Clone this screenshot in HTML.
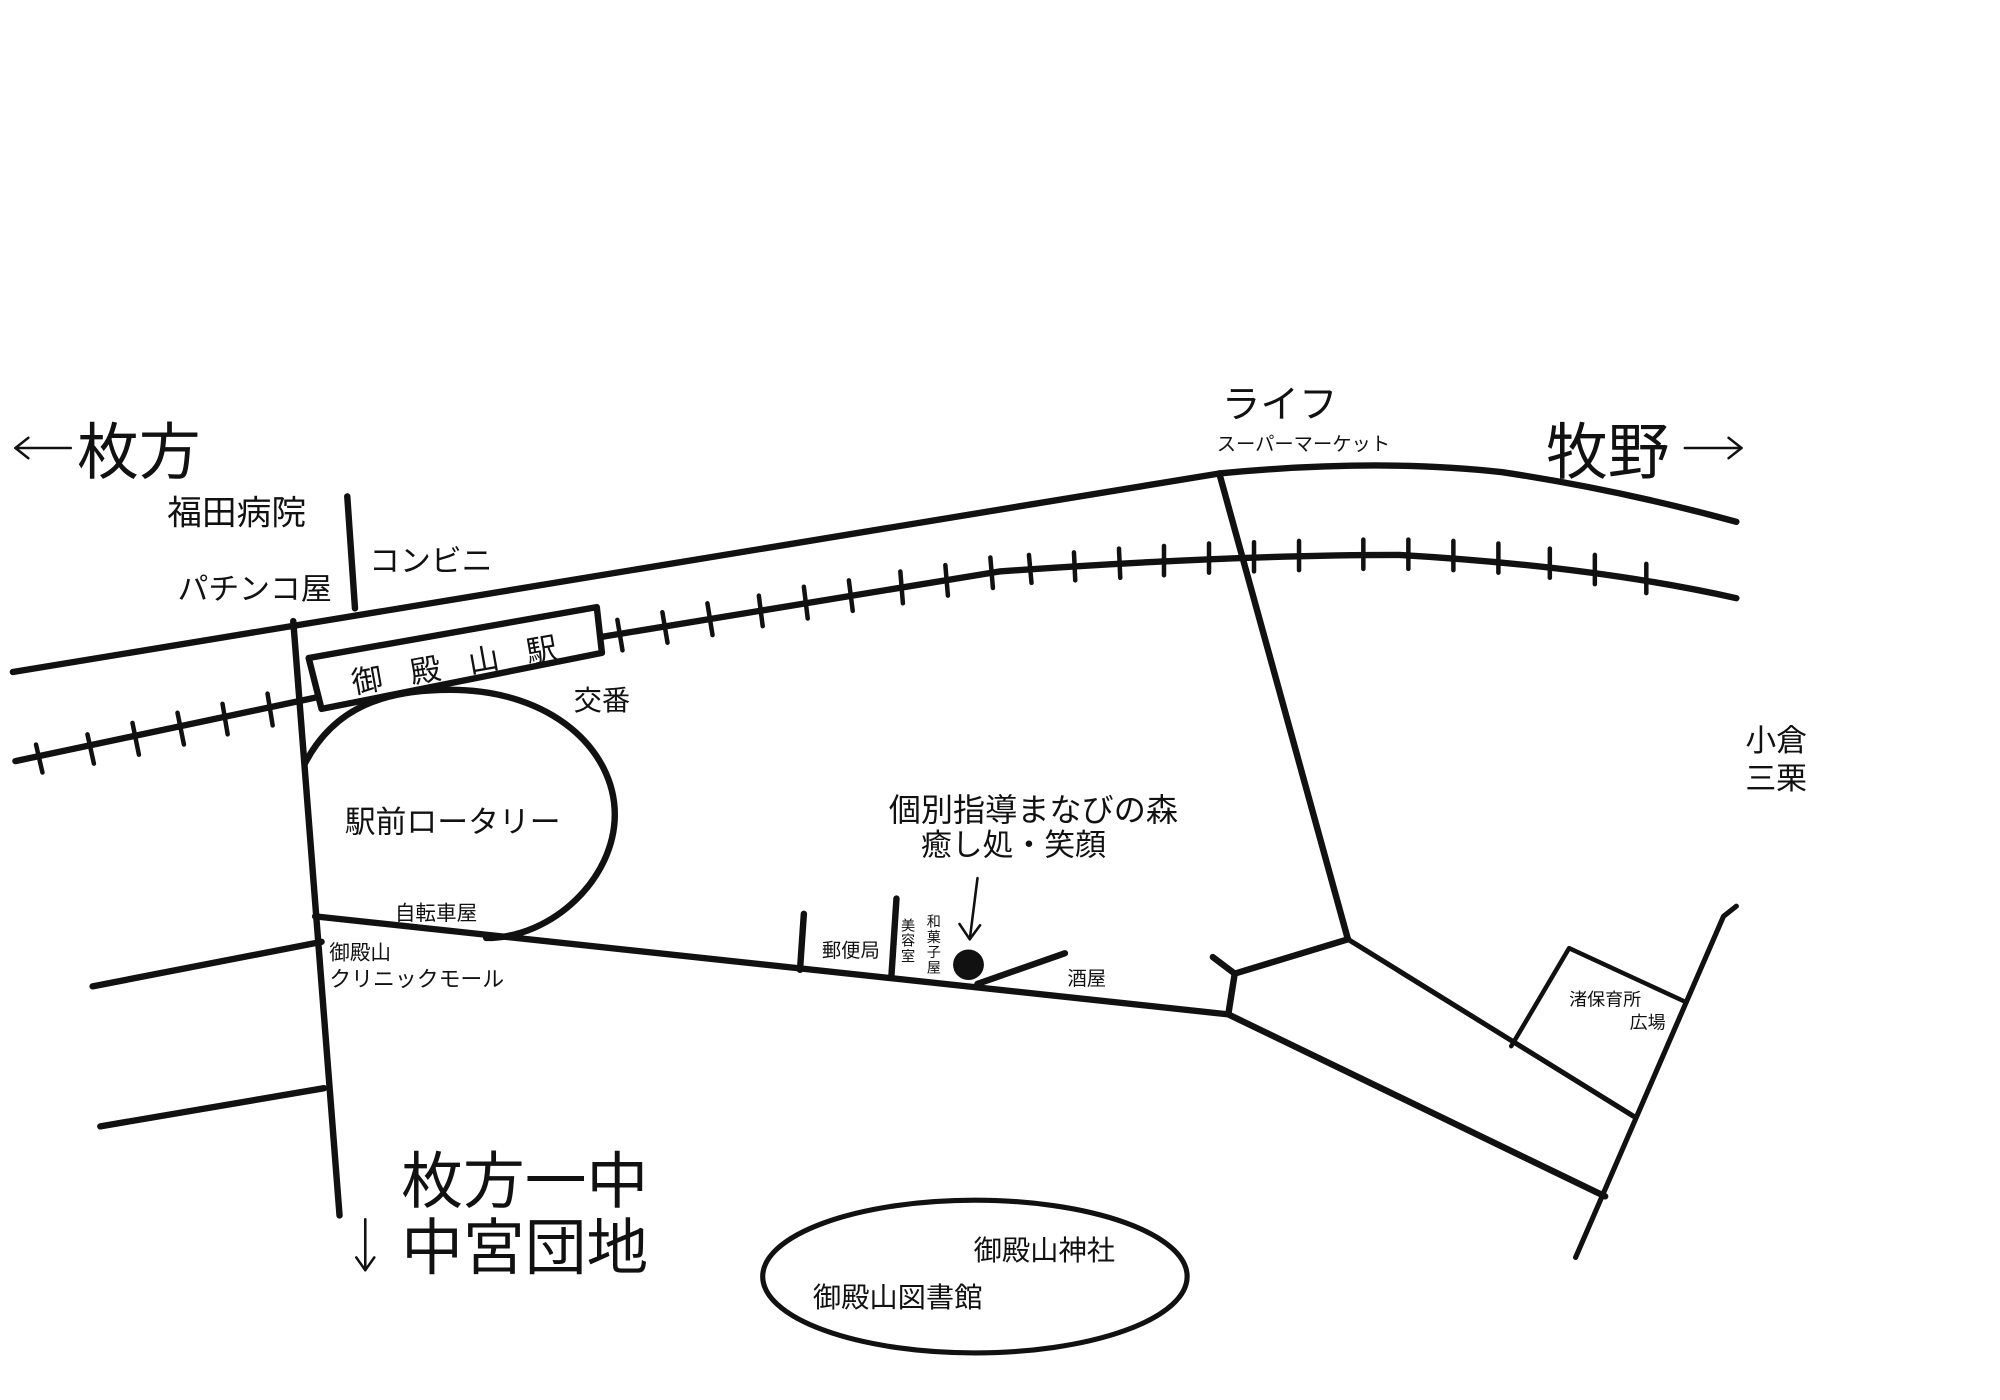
<!DOCTYPE html>
<html><head><meta charset="utf-8"><style>
html,body{margin:0;padding:0;background:#fff;width:2000px;height:1400px;overflow:hidden}
svg{display:block}
text{font-family:"Liberation Sans","Noto Sans CJK JP",sans-serif;fill:#111}
</style></head><body>
<svg width="2000" height="1400" viewBox="0 0 1555 1100" preserveAspectRatio="none" xmlns="http://www.w3.org/2000/svg">
<g stroke="#111" stroke-width="5" fill="none" stroke-linecap="round" stroke-linejoin="round">
<path d="M10 528 L948 372 Q1072 360 1168 371 Q1260 385 1350 410"/>
<path d="M12 598 L470 500 L777 449 Q957 436 1088 436 Q1240 445 1350 470"/>
<g stroke-width="3.5">
<line x1="28" y1="585" x2="33" y2="607"/><line x1="68" y1="577" x2="73" y2="600"/><line x1="103" y1="568" x2="108" y2="593"/>
<line x1="138" y1="560" x2="143" y2="585"/><line x1="173" y1="553" x2="177" y2="577"/><line x1="208" y1="545" x2="212" y2="570"/>
<line x1="480" y1="487" x2="484" y2="511"/><line x1="515" y1="481" x2="519" y2="505"/><line x1="550" y1="474" x2="554" y2="499"/>
<line x1="590" y1="468" x2="593" y2="492"/><line x1="625" y1="461" x2="628" y2="486"/><line x1="660" y1="456" x2="663" y2="480"/>
<line x1="700" y1="449" x2="702" y2="474"/><line x1="735" y1="444" x2="737" y2="468"/><line x1="770" y1="438" x2="772" y2="462"/>
<line x1="800" y1="436" x2="802" y2="458"/><line x1="835" y1="434" x2="836" y2="456"/><line x1="870" y1="431" x2="871" y2="454"/>
<line x1="905" y1="429" x2="905" y2="452"/><line x1="940" y1="427" x2="940" y2="450"/><line x1="975" y1="426" x2="975" y2="449"/>
<line x1="1010" y1="425" x2="1010" y2="448"/><line x1="1060" y1="424" x2="1060" y2="447"/><line x1="1095" y1="424" x2="1095" y2="447"/>
<line x1="1130" y1="425" x2="1130" y2="448"/><line x1="1165" y1="427" x2="1165" y2="450"/><line x1="1205" y1="431" x2="1205" y2="454"/>
<line x1="1240" y1="436" x2="1240" y2="459"/><line x1="1280" y1="443" x2="1280" y2="466"/>
</g>
<polygon points="240,517 464,477 468,513 250,557" fill="#fff"/>
<line x1="270" y1="390" x2="276" y2="478"/>
<line x1="228" y1="488" x2="264" y2="955"/>
<path d="M237 600 C260 555 300 542 350 542 C430 542 478 590 478 640 C478 690 430 737 378 737"/>
<line x1="245" y1="720" x2="955" y2="797"/>
<line x1="72" y1="775" x2="250" y2="740"/>
<line x1="78" y1="885" x2="252" y2="855"/>
<line x1="625" y1="718" x2="622" y2="762"/>
<line x1="697" y1="706" x2="693" y2="768"/>
<line x1="760" y1="773" x2="828" y2="749"/>
<line x1="948" y1="372" x2="1048" y2="738"/>
<polyline points="1048,738 960,765 955,797"/>
<line x1="943" y1="752" x2="960" y2="765"/>
<line x1="955" y1="797" x2="1248" y2="940"/>
<line x1="1048" y1="738" x2="1270" y2="877" stroke-width="4"/>
<polyline points="1350,712 1340,720 1225,988" stroke-width="4"/>
<polyline points="1175,822 1220,745 1310,787" stroke-width="3.5"/>
<ellipse cx="758" cy="1003" rx="165" ry="60" stroke-width="4"/>
<g stroke-width="2">
<line x1="760" y1="690" x2="754" y2="738"/>
<polyline points="746,726 754,738 762,727"/>
<!-- big arrows -->
<line x1="12" y1="352" x2="55" y2="352"/><polyline points="22,344 12,352 22,360"/>
<line x1="1310" y1="352" x2="1354" y2="352"/><polyline points="1344,344 1354,352 1344,360"/>
<line x1="284" y1="958" x2="284" y2="998"/><polyline points="277,988 284,998 291,988"/>
</g>
</g>
<circle cx="753" cy="758" r="12" fill="#111"/>
<text x="60" y="372" font-size="48">枚方</text>
<text x="130" y="412" font-size="27">福田病院</text>
<text x="287" y="449" font-size="24">コンビニ</text>
<text x="138" y="471" font-size="24">パチンコ屋</text>
<text x="0" y="0" font-size="24" transform="translate(275,545) rotate(-10)" letter-spacing="22">御殿山駅</text>
<text x="446" y="558" font-size="22">交番</text>
<text x="268" y="654" font-size="24">駅前ロータリー</text>
<text x="307" y="723" font-size="16">自転車屋</text>
<text x="256" y="754" font-size="16">御殿山</text>
<text x="256" y="775" font-size="17">クリニックモール</text>
<text x="312" y="945" font-size="48">枚方一中</text>
<text x="312" y="997" font-size="48">中宮団地</text>
<text x="639" y="752" font-size="15">郵便局</text>
<text font-size="11" x="706" y="731" text-anchor="middle">美</text>
<text font-size="11" x="706" y="743" text-anchor="middle">容</text>
<text font-size="11" x="706" y="755" text-anchor="middle">室</text>
<text font-size="11" x="726" y="728" text-anchor="middle">和</text>
<text font-size="11" x="726" y="740" text-anchor="middle">菓</text>
<text font-size="11" x="726" y="752" text-anchor="middle">子</text>
<text font-size="11" x="726" y="764" text-anchor="middle">屋</text>
<text x="830" y="774" font-size="15">酒屋</text>
<text x="691" y="645" font-size="25">個別指導まなびの森</text>
<text x="716" y="672" font-size="24">癒し処・笑顔</text>
<text x="950" y="328" font-size="30">ライフ</text>
<text x="946" y="354" font-size="15">スーパーマーケット</text>
<text x="1202" y="372" font-size="48">牧野</text>
<text x="1357" y="590" font-size="24">小倉</text>
<text x="1357" y="620" font-size="24">三栗</text>
<text x="1220" y="790" font-size="14">渚保育所</text>
<text x="1267" y="808" font-size="14">広場</text>
<text x="757" y="990" font-size="22">御殿山神社</text>
<text x="632" y="1027" font-size="22">御殿山図書館</text>
</svg>
</body></html>
